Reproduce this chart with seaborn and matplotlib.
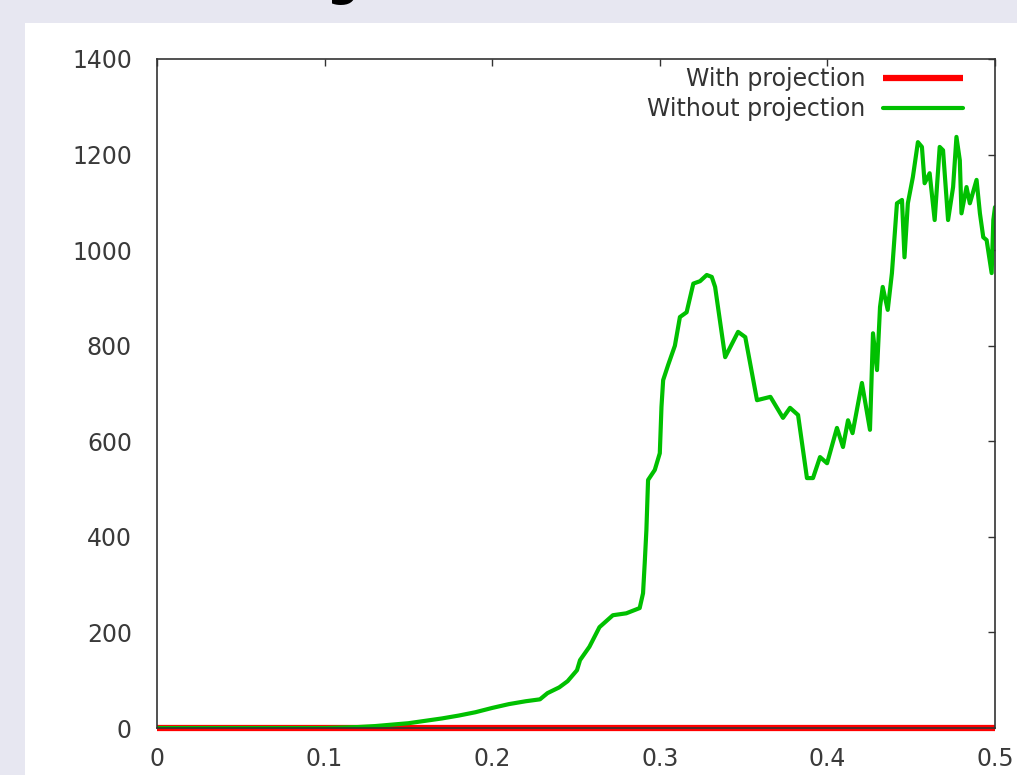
import matplotlib
matplotlib.use('Agg')
import matplotlib.pyplot as plt
import pandas as pd
import seaborn as sns
from matplotlib.patches import Rectangle

# data
proj_x = [0.0, 0.5]
proj_y = [0, 0]

noproj_x = [0, 0.1, 0.11, 0.12, 0.13, 0.14, 0.15, 0.16, 0.17, 0.18,
            0.19, 0.2, 0.21, 0.22, 0.2285, 0.233, 0.24, 0.245, 0.2506, 0.2524,
            0.258, 0.264, 0.272, 0.28, 0.288, 0.290, 0.291, 0.292, 0.293, 0.297,
            0.300, 0.301, 0.302, 0.305, 0.309, 0.312, 0.316, 0.320, 0.324, 0.328,
            0.331, 0.333, 0.339, 0.3467, 0.351, 0.358, 0.366, 0.3735, 0.3777, 0.3825,
            0.3878, 0.3914, 0.3956, 0.3998, 0.4057, 0.4093, 0.4123, 0.415, 0.4206, 0.4254,
            0.4272, 0.4296, 0.4314, 0.433, 0.436, 0.4385, 0.4415, 0.4445, 0.446, 0.448,
            0.451, 0.454, 0.4564, 0.458, 0.461, 0.464, 0.467, 0.469, 0.472, 0.475,
            0.477, 0.479, 0.480, 0.483, 0.485, 0.489, 0.491, 0.493, 0.495, 0.498,
            0.499, 0.5]
noproj_y = [0, 0, 1, 2, 4, 7, 10, 15, 20, 26,
            33, 42, 50, 56, 60, 73, 85, 98, 121, 142,
            170, 211, 236, 240, 251, 282, 345, 414, 519, 540,
            575, 672, 728, 760, 800, 860, 870, 930, 935, 948,
            944, 923, 776, 829, 818, 686, 693, 649, 670, 655,
            523, 523, 567, 554, 628, 588, 644, 617, 722, 624,
            826, 749, 881, 923, 875, 952, 1098, 1105, 985, 1098,
            1153, 1226, 1216, 1140, 1161, 1063, 1216, 1209, 1063, 1132,
            1237, 1188, 1077, 1132, 1098, 1147, 1077, 1027, 1021, 952,
            1063, 1090]

xticks = [0, 0.1, 0.2, 0.3, 0.4, 0.5]
xticklabels = ['0', '0.1', '0.2', '0.3', '0.4', '0.5']
yticks = [0, 200, 400, 600, 800, 1000, 1200, 1400]

df_proj = pd.DataFrame({'x': proj_x, 'y': proj_y})
df_noproj = pd.DataFrame({'x': noproj_x, 'y': noproj_y})

sns.set_style('white')
plt.rcParams['font.family'] = ['DejaVu Sans']

fig = plt.figure(figsize=(10.17, 7.75), dpi=100)
fig.patch.set_facecolor('#e7e7f1')
# white page panel behind the chart
fig.patches.append(Rectangle((25 / 1017, 0), 1, (775 - 23) / 775,
                             transform=fig.transFigure, facecolor='white',
                             edgecolor='none', zorder=0))
# cut-off heading above the panel
fig.text(343 / 1017, 1 - 5 / 775, 'g', ha='center', va='bottom',
         fontsize=32, fontweight='bold', color='black')

ax = fig.add_axes([157 / 1017, (775 - 728) / 775, 838 / 1017, 669 / 775])
ax.set_zorder(3)
ax.set_facecolor('white')

sns.lineplot(data=df_proj, x='x', y='y', ax=ax, color='#ff0000', lw=4.5,
             label='With projection', estimator=None, sort=False)
sns.lineplot(data=df_noproj, x='x', y='y', ax=ax, color='#00c000', lw=3,
             label='Without projection', estimator=None, sort=False)
# gnuplot draws the zero line through the axis, so let it spill over
ax.lines[0].set_clip_on(False)
ax.lines[0].set_solid_capstyle('butt')

ax.set_xlim(0, 0.5)
ax.set_ylim(0, 1400)
ax.set_xticks(xticks)
ax.set_xticklabels(xticklabels)
ax.set_yticks(yticks)
ax.set_xlabel('')
ax.set_ylabel('')

for s in ax.spines.values():
    s.set_visible(True)
    s.set_color('#333333')
    s.set_linewidth(1.2)
    s.set_zorder(5)

ax.tick_params(direction='in', length=5, width=1, color='#333333',
               top=True, right=True, labelsize=17, labelcolor='#3a3a3a')
ax.tick_params(axis='x', pad=14)
ax.tick_params(axis='y', pad=18)

leg = ax.legend(loc='upper right', bbox_to_anchor=(0.9618, 0.9875),
                frameon=False, markerfirst=False, fontsize=17,
                handlelength=3.4, handletextpad=0.75, labelspacing=0.25,
                borderpad=0, borderaxespad=0)
for t in leg.get_texts():
    t.set_color('#333333')

fig.savefig('out.png', dpi=100, facecolor=fig.get_facecolor())
